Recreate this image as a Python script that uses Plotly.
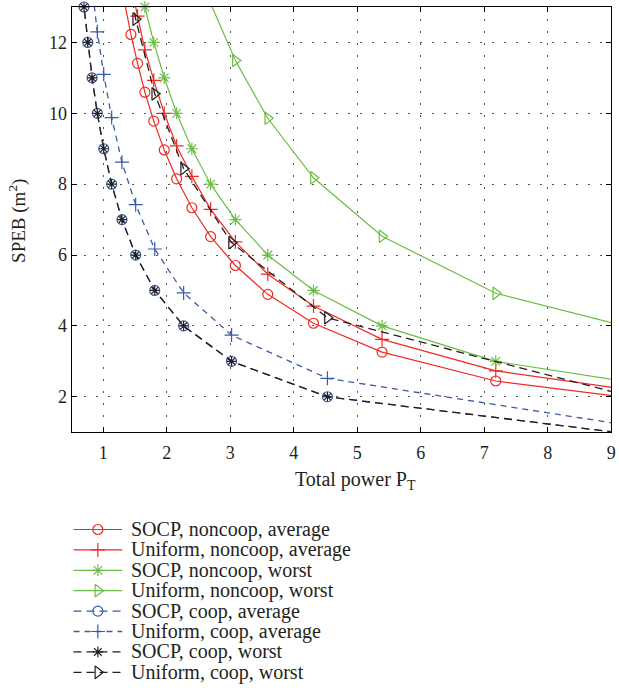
import plotly.graph_objects as go

W, H = 619, 690
X_RANGE = [0.5, 9]
Y_RANGE = [1, 13]

# ---- data ----
# Total power grid of the non-cooperative curves
pt_noncoop = [10.77, 7.18, 5.39, 4.31, 3.59, 3.08, 2.69, 2.395, 2.155, 1.96, 1.795, 1.655, 1.54, 1.435, 1.345]
# Total power grid of the cooperative curves
pt_coop = [9.06, 4.53, 3.02, 2.265, 1.81, 1.51, 1.294, 1.132, 1.007, 0.906, 0.824, 0.755, 0.697]

socp_noncoop_avg = [1.63, 2.445, 3.26, 4.075, 4.89, 5.705, 6.52, 7.335, 8.15, 8.965, 9.78, 10.595, 11.41, 12.225, 13.04]
uniform_noncoop_avg = [1.82, 2.73, 3.62, 4.56, 5.46, 6.37, 7.29, 8.22, 9.08, 10.0, 10.93, 11.79, 12.74, 13.65]
socp_noncoop_worst = [2.0, 3.0, 4.0, 5.0, 6.0, 7.0, 8.0, 9.0, 10.0, 11.0, 12.0, 13.0]
uniform_noncoop_worst = [3.28, 4.92, 6.53, 8.18, 9.86, 11.49, 13.1]
socp_coop_avg = [1.0, 2.0, 3.0, 4.0, 5.0, 6.0, 7.0, 8.0, 9.0, 10.0, 11.0, 12.0, 13.0]
uniform_coop_avg = [1.25, 2.52, 3.74, 4.93, 6.17, 7.42, 8.62, 9.88, 11.1, 12.3, 13.55]
socp_coop_worst = [1.0, 2.0, 3.0, 4.0, 5.0, 6.0, 7.0, 8.0, 9.0, 10.0, 11.0, 12.0, 13.0]
uniform_coop_worst = [2.12, 4.23, 6.35, 8.44, 10.55, 12.66, 14.8]

x_ticks = [1, 2, 3, 4, 5, 6, 7, 8, 9]
y_ticks = [2, 4, 6, 8, 10, 12]

names = [
    "SOCP, noncoop, average",
    "Uniform, noncoop, average",
    "SOCP, noncoop, worst",
    "Uniform, noncoop, worst",
    "SOCP, coop, average",
    "Uniform, coop, average",
    "SOCP, coop, worst",
    "Uniform, coop, worst",
]

# ---- styles ----
RED = "#ee2a24"
GREEN = "#6cbd45"
BLUE = "#3a5ba8"
BLACK = "#231f20"
TXT = "#231f20"
FONT = "Liberation Serif"
DASH_K = "8px,5px"
DASH_B = "6px,5px"

series = [
    (pt_noncoop, socp_noncoop_avg, RED, "solid", "circle-open", 10, 1.2),
    (pt_noncoop, uniform_noncoop_avg, RED, "solid", "cross-thin-open", 10, 1.2),
    (pt_noncoop, socp_noncoop_worst, GREEN, "solid", "asterisk-open", 10, 1.2),
    (pt_noncoop, uniform_noncoop_worst, GREEN, "solid", "triangle-right-open", 11, 1.2),
    (pt_coop, socp_coop_avg, BLUE, DASH_K, "circle-open", 10, 1.3),
    (pt_coop, uniform_coop_avg, BLUE, DASH_B, "cross-thin-open", 10, 1.3),
    (pt_coop, socp_coop_worst, BLACK, DASH_K, "asterisk-open", 8, 1.3),
    (pt_coop, uniform_coop_worst, BLACK, DASH_K, "triangle-right-open", 11, 1.3),
]

fig = go.Figure()

for xs_all, ys, col, dash, sym, msz, lw in series:
    xs = xs_all[: len(ys)]
    op = [1 if (X_RANGE[0] <= x <= X_RANGE[1] and Y_RANGE[0] - 0.01 <= y <= Y_RANGE[1] + 0.01) else 0
          for x, y in zip(xs, ys)]
    fig.add_trace(go.Scatter(
        x=xs, y=ys, mode="lines+markers",
        line=dict(color=col, width=lw, dash=dash),
        marker=dict(symbol=sym, size=msz, color=col, opacity=op,
                    line=dict(color=col, width=1.2)),
        cliponaxis=False, showlegend=False, hoverinfo="skip",
    ))

# ---- manual legend (drawn on a pixel-scaled overlay axis pair) ----
LEG_X0, LEG_X1 = 74, 123
LEG_TEXT_X = 130
LEG_Y0, LEG_DY = 529.5, 20.4
for i, (xs_all, ys, col, dash, sym, msz, lw) in enumerate(series):
    yy = LEG_Y0 + i * LEG_DY
    fig.add_trace(go.Scatter(
        x=[LEG_X0, (LEG_X0 + LEG_X1) / 2, LEG_X1], y=[yy, yy, yy],
        xaxis="x2", yaxis="y2", mode="lines+markers",
        line=dict(color=col, width=lw, dash=dash),
        marker=dict(symbol=sym, size=msz if msz > 8 else 9, color=col, opacity=[0, 1, 0],
                    line=dict(color=col, width=1.2)),
        showlegend=False, hoverinfo="skip",
    ))
    fig.add_annotation(
        x=LEG_TEXT_X / W, y=1 - yy / H, xref="paper", yref="paper",
        text=names[i], showarrow=False, xanchor="left", yanchor="middle",
        font=dict(family=FONT, size=20, color=TXT),
    )

PX_L, PX_R, PX_T, PX_B = 72, 615.3, 7, 432.2

axis_common = dict(
    showline=True, linecolor="black", linewidth=1, mirror="ticks",
    ticks="inside", ticklen=5, tickwidth=1, tickcolor="black",
    showgrid=True, gridcolor="#555555", gridwidth=1, griddash="2px,10px",
    zeroline=False, tickfont=dict(family=FONT, size=18, color=TXT),
    ticklabeloverflow="allow",
)

fig.update_layout(
    width=W, height=H,
    margin=dict(l=0, r=0, t=0, b=0),
    paper_bgcolor="white", plot_bgcolor="rgba(0,0,0,0)",
    showlegend=False,
    xaxis=dict(domain=[PX_L / W, PX_R / W], range=X_RANGE, tickvals=x_ticks,
               ticktext=[str(v) for v in x_ticks], anchor="y", ticklabelstandoff=4,
               **axis_common),
    yaxis=dict(domain=[1 - PX_B / H, 1 - PX_T / H], range=Y_RANGE, tickvals=y_ticks,
               ticktext=[str(v) for v in y_ticks], anchor="x", **axis_common),
    xaxis2=dict(domain=[0, 1], range=[0, W], visible=False, anchor="y2", fixedrange=True),
    yaxis2=dict(domain=[0, 1], range=[H, 0], visible=False, anchor="x2", fixedrange=True),
)

fig.add_annotation(
    x=358 / W, y=1 - 480 / H, xref="paper", yref="paper",
    text="Total power P<sub>T</sub>", showarrow=False, xanchor="center", yanchor="middle",
    font=dict(family=FONT, size=20, color=TXT),
)
fig.add_annotation(
    x=17 / W, y=1 - 221 / H, xref="paper", yref="paper",
    text="SPEB (m<sup>2</sup>)", showarrow=False, xanchor="center", yanchor="middle",
    textangle=-90, font=dict(family=FONT, size=19, color=TXT),
)

fig.write_html("out.html")
